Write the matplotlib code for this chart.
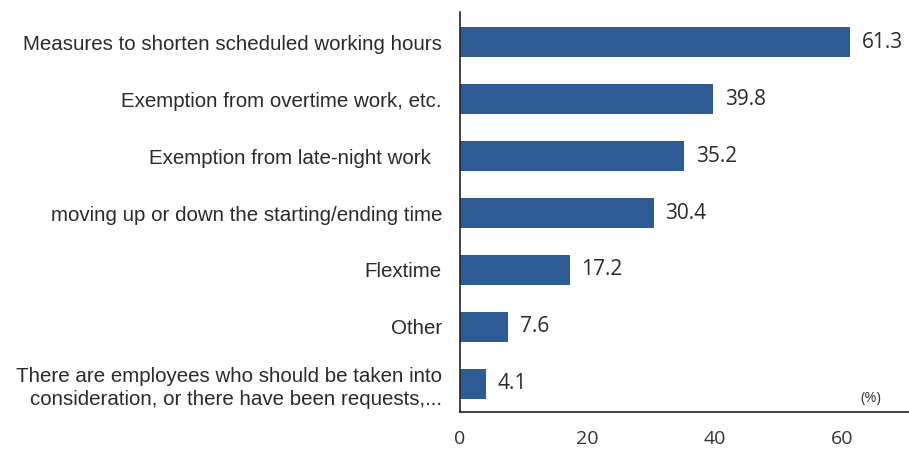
import matplotlib
matplotlib.use("Agg")
from matplotlib import pyplot as plt

categories = [
    "Measures to shorten scheduled working hours",
    "Exemption from overtime work, etc.",
    "Exemption from late-night work  ",
    "moving up or down the starting/ending time",
    "Flextime",
    "Other",
    "There are employees who should be taken into\nconsideration, or there have been requests,...",
]
values = [61.3, 39.8, 35.2, 30.4, 17.2, 7.6, 4.1]
x_ticks = [0, 20, 40, 60]

BAR_COLOR = "#2f5b95"


def main() -> None:
    fig = plt.figure(figsize=(9.09, 4.5), dpi=100)
    ax = fig.add_axes([0.506, 0.084, 0.494, 0.889])

    positions = list(range(len(categories)))
    ax.barh(positions, values, height=0.53, color=BAR_COLOR)

    for y, v in zip(positions, values):
        ax.text(v + 1.8, y, f"{v:.1f}", va="center", ha="left",
                fontsize=15, family="Open Sans", color="#2a2a2a")

    ax.set_xlim(0, 70.5)
    ax.set_ylim(6.5, -0.53)
    ax.set_yticks(positions)
    ax.set_yticklabels(categories, fontsize=14.8, family="Liberation Sans",
                       color="#2a2a2a", ha="right", multialignment="right",
                       linespacing=1.3)
    ax.set_xticks(x_ticks)
    ax.set_xticklabels([str(t) for t in x_ticks], fontsize=14, family="Open Sans",
                       color="#333333")
    ax.tick_params(axis="y", length=0, pad=13)
    ax.tick_params(axis="x", length=0, pad=13)

    for side in ("top", "right"):
        ax.spines[side].set_visible(False)
    ax.spines["left"].set_color("#222222")
    ax.spines["bottom"].set_color("#222222")
    ax.spines["left"].set_linewidth(1.2)
    ax.spines["bottom"].set_linewidth(1.2)

    ax.text(0.915, 0.035, "(%)", transform=ax.transAxes, fontsize=10.5,
            family="Open Sans", color="#333333", ha="center", va="center")

    fig.savefig("out.png", dpi=100)


if __name__ == "__main__":
    main()
